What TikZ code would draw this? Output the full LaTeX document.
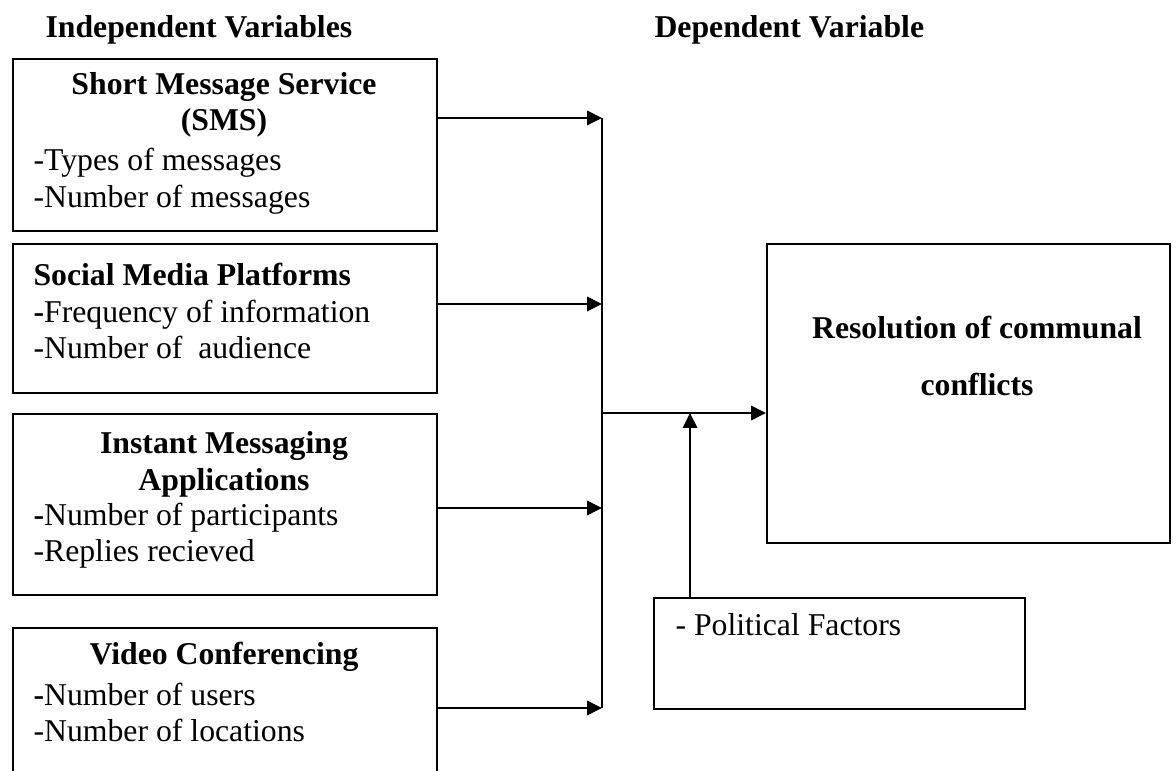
\documentclass[tikz,border=0pt]{standalone}
\usepackage{fontspec}
\setmainfont{Liberation Serif}
\usetikzlibrary{arrows.meta,positioning}
\newcommand\pxu{0.378pt}

\begin{document}
\begin{tikzpicture}[
    x=\pxu, y=-\pxu,
    font=\fontsize{12}{13.8}\selectfont,
    ivbox/.style={draw,line width=0.6pt,anchor=north west,inner sep=0pt,minimum width=424*\pxu},
    dvbox/.style={draw,line width=0.6pt,anchor=north west,inner sep=0pt},
    head/.style={font=\fontsize{12}{13.8}\selectfont\bfseries,align=center,inner sep=0pt},
    item/.style={align=left,anchor=west,inner sep=0pt},
    arrow/.style={-{Triangle[length=5.6pt,width=5.4pt]},line width=0.75pt}
  ]
    \clip (0,0) rectangle (1176,771);
    % column titles
    \node[head,anchor=west] (ivtitle) at (45,30) {Independent Variables};
    \node[head,anchor=west] (dvtitle) at (654,30) {Dependent Variable};
    % independent variables
    \node[ivbox,minimum height=172*\pxu] (sms) at (12,58) {};
    \node[head] (smshead) at (224,105) {Short Message Service\\(SMS)};
    \node[item] (smsitems) at (33,181.5) {-Types of messages\\-Number of messages};
    \node[ivbox,minimum height=149*\pxu] (smp) at (12,243) {};
    \node[item] (smpitems) at (33,311) {\textbf{Social Media Platforms}\\\textbf{-}Frequency of information\\-Number of\ \ audience};
    \node[ivbox,minimum height=181*\pxu] (ima) at (12,413) {};
    \node[head] (imahead) at (224,464.5) {Instant Messaging\\Applications};
    \node[item] (imaitems) at (33,535.5) {\textbf{-}Number of participants\\-Replies recieved};
    \node[ivbox,minimum height=180*\pxu] (vc) at (12,627) {};
    \node[head] (vchead) at (224,657) {Video Conferencing};
    \node[item] (vcitems) at (33,712.5) {\textbf{-}Number of users\\-Number of locations};
    % dependent variable and moderator
    \node[dvbox,minimum width=403*\pxu,minimum height=299*\pxu] (res) at (766,243) {};
    \node[head,font=\fontsize{12}{21.5}\selectfont\bfseries] (reslabel) at (977,356) {Resolution of communal\\conflicts};
    \node[dvbox,minimum width=371*\pxu,minimum height=111*\pxu] (pol) at (653,597) {};
    \node[item] (pollabel) at (675,625) {- Political Factors};
    % connectors
    \coordinate (j1) at (602,118);
    \coordinate (j2) at (602,304);
    \coordinate (j3) at (602,508);
    \coordinate (j4) at (602,708);
    \coordinate (jm) at (602,413);
    \coordinate (jp) at (690,413);
    \draw[arrow] (sms.east |- j1) -- (j1);
    \draw[arrow] (smp.east |- j2) -- (j2);
    \draw[arrow] (ima.east |- j3) -- (j3);
    \draw[arrow] (vc.east |- j4) -- (j4);
    \draw[line width=0.6pt] (j1) -- (j4);
    \draw[arrow] (jm) -- (res.west |- jm);
    \draw[arrow] (pol.north -| jp) -- (jp);
  \end{tikzpicture}
\end{document}
